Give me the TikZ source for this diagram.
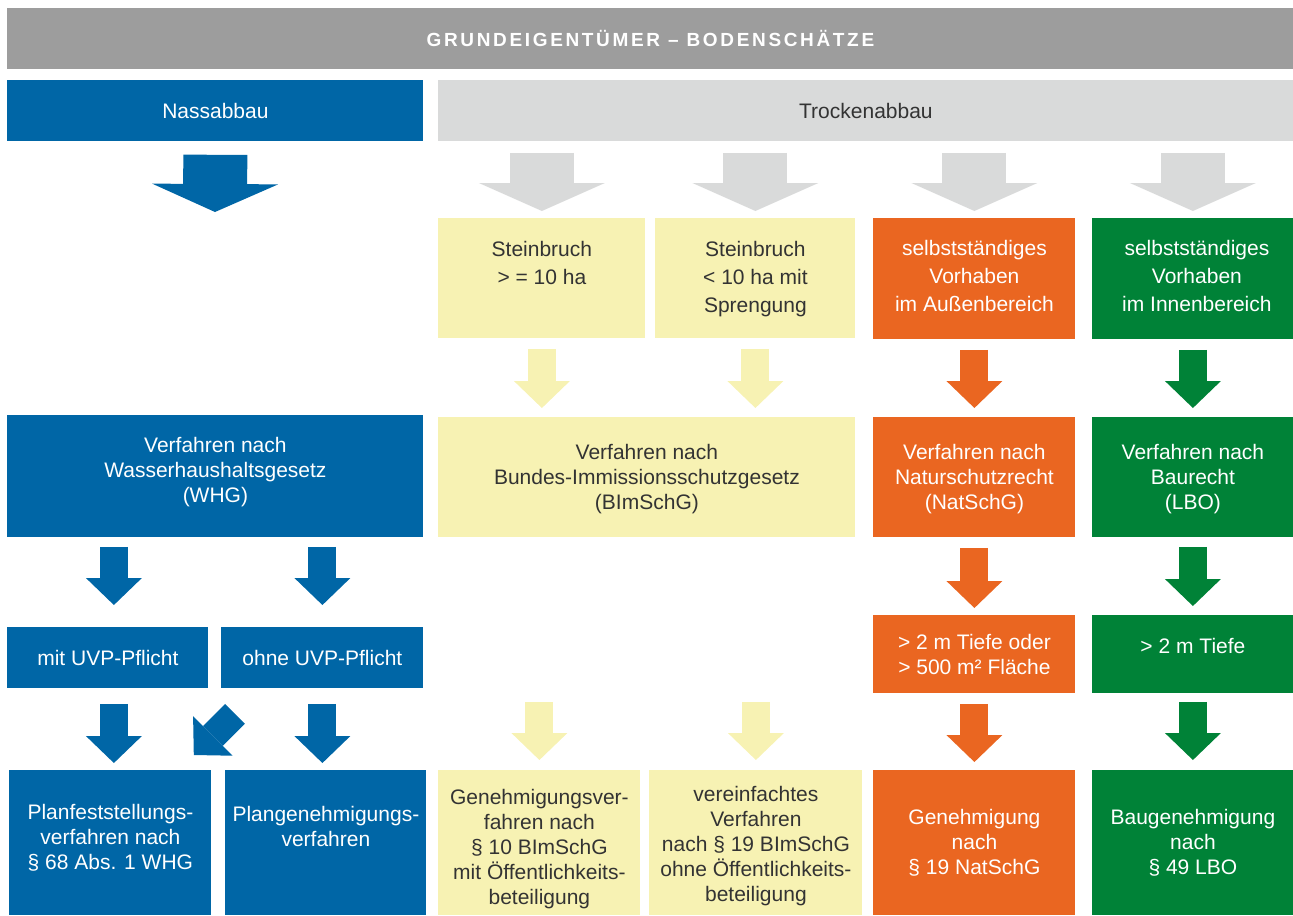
\documentclass[tikz,border=0pt]{standalone}
\usepackage{fontspec}
\setmainfont{Liberation Sans}
\newfontfamily\headfont[LetterSpace=14]{Liberation Sans}
\usepackage{tikz}
\usetikzlibrary{arrows.meta, positioning, calc}
\definecolor{headgray}{RGB}{157,157,157}
\definecolor{wetblue}{RGB}{0,102,166}
\definecolor{drygray}{RGB}{217,218,218}
\definecolor{paleyellow}{RGB}{247,242,179}
\definecolor{natorange}{RGB}{234,102,33}
\definecolor{buildgreen}{RGB}{0,130,55}
\definecolor{darktext}{RGB}{51,51,51}

\begin{document}
\begin{tikzpicture}[
    x=0.5pt, y=-0.5pt,
    box/.style={rectangle, anchor=north west, inner sep=0pt, align=center, font=\fontsize{10.5}{12.5}\selectfont},
    bluebox/.style={box, fill=wetblue, text=white},
    graybox/.style={box, fill=drygray, text=darktext},
    yellowbox/.style={box, fill=paleyellow, text=darktext},
    orangebox/.style={box, fill=natorange, text=white},
    greenbox/.style={box, fill=buildgreen, text=white},
    txt/.style={anchor=north, inner sep=0pt, align=center, font=\fontsize{10.5}{12.5}\selectfont},
    widetxt/.style={txt, font=\fontsize{10.5}{14}\selectfont},
    bigarrow/.style={line width=32pt, -{Triangle[length=14pt, width=63pt, line width=0pt]}},
    smallarrow/.style={line width=14pt, -{Triangle[length=13.5pt, width=28pt, line width=0pt]}}
]
\useasboundingbox (0,0) rectangle (1293,915);

% Header
\node[box, fill=headgray, text=white, minimum width=643pt, minimum height=30.5pt, font=\headfont\bfseries\fontsize{9.5}{11}\selectfont] (head) at (7,8) {GRUNDEIGENTÜMER – BODENSCHÄTZE};

% Abbauarten
\node[bluebox, minimum width=208pt, minimum height=30.5pt] (nass) at (7,80) {Nassabbau};
\node[graybox, minimum width=427.5pt, minimum height=30.5pt] (trocken) at (438,80) {Trockenabbau};

% Vorhaben
\node[yellowbox, minimum width=103.5pt, minimum height=60pt] (stein1) at (438,218) {};
\node[yellowbox, minimum width=100pt, minimum height=60pt] (stein2) at (655,218) {};
\node[orangebox, minimum width=101pt, minimum height=60.5pt] (aussen) at (873,218) {};
\node[greenbox, minimum width=100.5pt, minimum height=60.5pt] (innen) at (1092,218) {};
\node[widetxt, text=darktext] (stein1txt) at ([yshift=-11.5pt]stein1.north) {Steinbruch\\> = 10 ha};
\node[widetxt, text=darktext] (stein2txt) at ([yshift=-11.5pt]stein2.north) {Steinbruch\\< 10 ha mit\\Sprengung};
\node[widetxt, text=white] (aussentxt) at ([yshift=-11pt]aussen.north) {selbstständiges\\Vorhaben\\im Außenbereich};
\node[widetxt, text=white] (innentxt) at ([xshift=2pt, yshift=-11pt]innen.north) {selbstständiges\\Vorhaben\\im Innenbereich};

% Verfahren
\node[bluebox, minimum width=208pt, minimum height=61pt] (whg) at (7,415) {};
\node[yellowbox, minimum width=208.5pt, minimum height=60pt] (bim) at (438,417) {};
\node[orangebox, minimum width=101pt, minimum height=60pt] (natschg) at (873,417) {};
\node[greenbox, minimum width=100.5pt, minimum height=60pt] (baurecht) at (1092,417) {};
\node[txt, text=white] (whgtxt) at ([yshift=-11pt]whg.north) {Verfahren nach\\Wasserhaushaltsgesetz\\(WHG)};
\node[txt, text=darktext] (bimtxt) at ([yshift=-13.5pt]bim.north) {Verfahren nach\\Bundes-Immissionsschutzgesetz\\(BImSchG)};
\node[txt, text=white] (natschgtxt) at ([yshift=-13.5pt]natschg.north) {Verfahren nach\\Naturschutzrecht\\(NatSchG)};
\node[txt, text=white] (baurechttxt) at ([yshift=-13.5pt]baurecht.north) {Verfahren nach\\Baurecht\\(LBO)};

% Schwellen
\node[bluebox, minimum width=100.5pt, minimum height=30.5pt] (mit) at (7,627) {mit UVP-Pflicht};
\node[bluebox, minimum width=101pt, minimum height=30.5pt] (ohne) at (221,627) {ohne UVP-Pflicht};
\node[orangebox, minimum width=101pt, minimum height=39pt] (flaeche) at (873,615) {> 2 m Tiefe oder\\> 500 m² Fläche};
\node[greenbox, minimum width=100.5pt, minimum height=39pt] (tiefe) at (1092,615) {};
\node[txt, text=white] (tiefetxt) at ([yshift=-11.5pt]tiefe.north) {> 2 m Tiefe};

% Ergebnisse
\node[bluebox, minimum width=101pt, minimum height=72.5pt] (planf) at (9,770) {};
\node[bluebox, minimum width=100.5pt, minimum height=72.5pt] (plang) at (225,770) {};
\node[yellowbox, minimum width=101pt, minimum height=72.5pt] (gen1) at (438,770) {};
\node[yellowbox, minimum width=106.5pt, minimum height=72.5pt] (gen2) at (649,770) {};
\node[orangebox, minimum width=101pt, minimum height=72.5pt] (natgen) at (873,770) {};
\node[greenbox, minimum width=100.5pt, minimum height=72.5pt] (baugen) at (1092,770) {};
\node[txt, text=white] (planftxt) at ([yshift=-17pt]planf.north) {Planfeststellungs-\\verfahren nach\\§ 68 Abs. 1 WHG};
\node[txt, text=white] (plangtxt) at ([yshift=-18pt]plang.north) {Plangenehmigungs-\\verfahren};
\node[txt, text=darktext] (gen1txt) at ([yshift=-9.5pt]gen1.north) {Genehmigungsver-\\fahren nach\\§ 10 BImSchG\\mit Öffentlichkeits-\\beteiligung};
\node[txt, text=darktext] (gen2txt) at ([yshift=-8pt]gen2.north) {vereinfachtes\\Verfahren\\nach § 19 BImSchG\\ohne Öffentlichkeits-\\beteiligung};
\node[txt, text=white] (natgentxt) at ([yshift=-19.5pt]natgen.north) {Genehmigung\\nach\\§ 19 NatSchG};
\node[txt, text=white] (baugentxt) at ([yshift=-19.5pt]baugen.north) {Baugenehmigung\\nach\\§ 49 LBO};

% Pfeile
\coordinate (nassend) at (215,212);
\draw[bigarrow, wetblue, shorten <=6.5pt] (nass.south) -- (nassend);
\foreach \t in {stein1, stein2, aussen, innen}
  \draw[bigarrow, drygray, shorten <=5.5pt, shorten >=3.5pt] (trocken.south -| \t.north) -- (\t.north);

\draw[smallarrow, paleyellow, shorten <=5pt, shorten >=4.5pt] (stein1.south) -- (stein1.south |- bim.north);
\draw[smallarrow, paleyellow, shorten <=5pt, shorten >=4.5pt] (stein2.south) -- (stein2.south |- bim.north);
\draw[smallarrow, natorange, shorten <=5pt, shorten >=4.5pt] (aussen.south) -- (natschg.north);
\draw[smallarrow, buildgreen, shorten <=5pt, shorten >=4.5pt] (innen.south) -- (innen.south |- baurecht.north);

\draw[smallarrow, wetblue, shorten <=4.5pt, shorten >=11pt] ($(whg.south -| mit.north)+(6,0)$) -- ($(mit.north)+(6,0)$);
\draw[smallarrow, wetblue, shorten <=4.5pt, shorten >=11pt] (whg.south -| ohne.north) -- (ohne.north);
\draw[smallarrow, natorange, shorten <=5pt, shorten >=3.5pt] (natschg.south) -- (flaeche.north);
\draw[smallarrow, buildgreen, shorten <=4.5pt, shorten >=4.5pt] (baurecht.south) -- (tiefe.north);

\draw[smallarrow, wetblue, shorten <=7.5pt, shorten >=3.5pt] ($(mit.south)+(6,0)$) -- ($(mit.south |- planf.north)+(6,0)$);
\draw[smallarrow, wetblue] ($(ohne.south west)+(14,25)$) -- ($(planf.north east)+(-18,-15)$);
\draw[smallarrow, wetblue, shorten <=7.5pt, shorten >=3.5pt] (ohne.south) -- (ohne.south |- plang.north);
\draw[smallarrow, paleyellow, shorten <=82pt, shorten >=5pt] (bim.south -| gen1.north) -- (gen1.north);
\draw[smallarrow, paleyellow, shorten <=82pt, shorten >=5pt] (bim.south -| gen2.north) -- (gen2.north);
\draw[smallarrow, natorange, shorten <=5pt, shorten >=4pt] (flaeche.south) -- (natgen.north);
\draw[smallarrow, buildgreen, shorten <=4pt, shorten >=5pt] (tiefe.south) -- (baugen.north);
\end{tikzpicture}
\end{document}
